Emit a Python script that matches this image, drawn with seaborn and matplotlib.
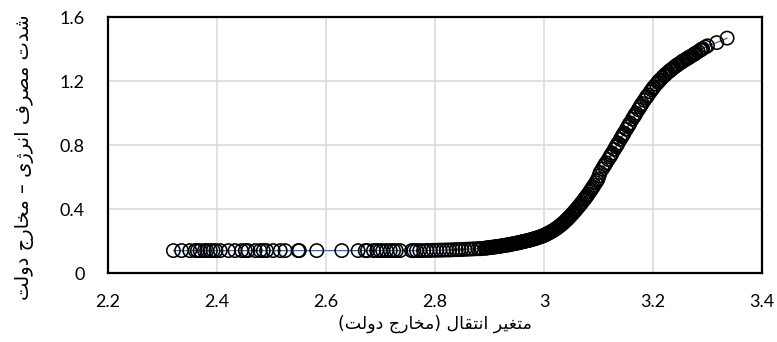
import matplotlib
matplotlib.use("Agg")
import matplotlib.pyplot as plt
import numpy as np
import pandas as pd
import seaborn as sns
from matplotlib.ticker import FuncFormatter

# Observations: (transition variable, energy intensity), low regime
low_regime = [
    (2.320, 0.140), (2.335, 0.140), (2.350, 0.140), (2.360, 0.140), (2.364, 0.140),
    (2.369, 0.140), (2.377, 0.140), (2.381, 0.140), (2.388, 0.140), (2.393, 0.140),
    (2.398, 0.140), (2.406, 0.140), (2.421, 0.140), (2.433, 0.140), (2.445, 0.140),
    (2.452, 0.140), (2.457, 0.140), (2.470, 0.140), (2.479, 0.140), (2.485, 0.140),
    (2.491, 0.140), (2.503, 0.140), (2.516, 0.140), (2.525, 0.140), (2.549, 0.140),
    (2.551, 0.140), (2.583, 0.140), (2.629, 0.140), (2.659, 0.140), (2.672, 0.140),
    (2.676, 0.140), (2.687, 0.140), (2.693, 0.140), (2.699, 0.140), (2.704, 0.140),
    (2.711, 0.140), (2.718, 0.140), (2.724, 0.140), (2.729, 0.140), (2.736, 0.140),
    (2.757, 0.140), (2.761, 0.140), (2.766, 0.140), (2.772, 0.140), (2.779, 0.140),
    (2.785, 0.141), (2.791, 0.141), (2.797, 0.142), (2.803, 0.142), (2.809, 0.143),
    (2.815, 0.143), (2.821, 0.144), (2.827, 0.144), (2.833, 0.145), (2.839, 0.146),
    (2.844, 0.146), (2.849, 0.147), (2.855, 0.148), (2.861, 0.149), (2.867, 0.150),
    (2.873, 0.151), (2.879, 0.152), (2.883, 0.152), (2.886, 0.153),
]

# Onset of the transition
onset = [
    (2.892, 0.155), (2.896, 0.157), (2.899, 0.158), (2.903, 0.160), (2.907, 0.162),
    (2.910, 0.163), (2.914, 0.165), (2.918, 0.167), (2.921, 0.169), (2.925, 0.171),
    (2.929, 0.173), (2.932, 0.175), (2.936, 0.177), (2.940, 0.180), (2.943, 0.182),
    (2.947, 0.185), (2.951, 0.188), (2.955, 0.190), (2.958, 0.193), (2.962, 0.196),
    (2.966, 0.199), (2.969, 0.202), (2.973, 0.205), (2.977, 0.209), (2.980, 0.212),
    (2.984, 0.216), (2.988, 0.220), (2.991, 0.224), (2.995, 0.228), (2.999, 0.233),
    (3.003, 0.240), (3.007, 0.247), (3.011, 0.254), (3.014, 0.260), (3.018, 0.268),
    (3.022, 0.277), (3.026, 0.287), (3.029, 0.295), (3.033, 0.306), (3.037, 0.318),
    (3.040, 0.328), (3.044, 0.341), (3.048, 0.355), (3.051, 0.366), (3.055, 0.381),
    (3.059, 0.397), (3.062, 0.409), (3.066, 0.426), (3.070, 0.443), (3.073, 0.456),
    (3.077, 0.474), (3.081, 0.493), (3.084, 0.508), (3.088, 0.528), (3.092, 0.549),
    (3.095, 0.565), (3.099, 0.587),
]

# Steep part of the transition
steep = [
    (3.103, 0.628), (3.107, 0.650), (3.110, 0.667), (3.114, 0.689), (3.118, 0.709),
    (3.121, 0.726), (3.125, 0.749), (3.129, 0.772), (3.132, 0.789), (3.136, 0.812),
    (3.140, 0.835), (3.143, 0.852), (3.147, 0.875), (3.151, 0.898), (3.154, 0.915),
    (3.158, 0.938), (3.162, 0.961), (3.165, 0.977), (3.169, 0.999), (3.173, 1.021),
    (3.176, 1.037), (3.180, 1.059), (3.184, 1.079), (3.187, 1.094), (3.191, 1.113),
    (3.195, 1.132), (3.198, 1.146),
]

# Upper regime
high_regime = [
    (3.202, 1.164), (3.206, 1.180), (3.209, 1.192), (3.213, 1.207), (3.217, 1.221),
    (3.220, 1.231), (3.224, 1.244), (3.228, 1.256), (3.231, 1.264), (3.235, 1.275),
    (3.239, 1.286), (3.242, 1.294), (3.246, 1.303), (3.250, 1.313), (3.253, 1.320),
    (3.257, 1.329), (3.261, 1.337), (3.264, 1.343), (3.268, 1.352), (3.272, 1.360),
    (3.275, 1.366), (3.279, 1.375), (3.283, 1.384), (3.287, 1.393), (3.291, 1.402),
    (3.296, 1.412), (3.317, 1.440), (3.336, 1.468),
]

# Further observations between the ones above
interleaved = [
    (2.894, 0.156), (2.901, 0.159), (2.905, 0.161), (2.912, 0.164), (2.916, 0.166),
    (2.923, 0.170), (2.927, 0.172), (2.934, 0.176), (2.938, 0.179), (2.945, 0.184),
    (2.949, 0.186), (2.953, 0.189), (2.960, 0.195), (2.964, 0.198), (2.971, 0.203),
    (2.975, 0.207), (2.982, 0.214), (2.986, 0.218), (2.993, 0.226), (2.997, 0.231),
    (3.001, 0.237), (3.005, 0.243), (3.009, 0.251), (3.016, 0.264), (3.020, 0.272),
    (3.024, 0.282), (3.031, 0.300), (3.035, 0.312), (3.042, 0.334), (3.046, 0.348),
    (3.053, 0.373), (3.057, 0.389), (3.064, 0.417), (3.068, 0.434), (3.075, 0.465),
    (3.079, 0.483), (3.086, 0.518), (3.090, 0.538), (3.097, 0.576), (3.101, 0.607),
    (3.112, 0.678), (3.123, 0.737), (3.134, 0.800), (3.145, 0.864), (3.156, 0.927),
    (3.167, 0.988), (3.178, 1.048), (3.189, 1.104), (3.200, 1.155), (3.211, 1.200),
    (3.222, 1.238), (3.233, 1.270), (3.244, 1.299), (3.255, 1.325), (3.266, 1.348),
    (3.277, 1.371), (3.289, 1.398), (3.300, 1.420),
]

x_ticks = [2.2, 2.4, 2.6, 2.8, 3.0, 3.2, 3.4]
y_ticks = [0, 0.4, 0.8, 1.2, 1.6]

x_title = "متغیر انتقال (مخارج دولت)"
y_title = "شدت مصرف انرژی – مخارج دولت"

# --- Persian shaping (contextual forms + right-to-left order) ---
FORMS = {
    "\u0627": ("\uFE8D", "\uFE8E", None, None),
    "\u062A": ("\uFE95", "\uFE96", "\uFE97", "\uFE98"),
    "\u062C": ("\uFE9D", "\uFE9E", "\uFE9F", "\uFEA0"),
    "\u062E": ("\uFEA5", "\uFEA6", "\uFEA7", "\uFEA8"),
    "\u062F": ("\uFEA9", "\uFEAA", None, None),
    "\u0631": ("\uFEAD", "\uFEAE", None, None),
    "\u0698": ("\uFB8A", "\uFB8B", None, None),
    "\u0634": ("\uFEB5", "\uFEB6", "\uFEB7", "\uFEB8"),
    "\u0635": ("\uFEB9", "\uFEBA", "\uFEBB", "\uFEBC"),
    "\u063A": ("\uFECD", "\uFECE", "\uFECF", "\uFED0"),
    "\u0641": ("\uFED1", "\uFED2", "\uFED3", "\uFED4"),
    "\u0642": ("\uFED5", "\uFED6", "\uFED7", "\uFED8"),
    "\u0644": ("\uFEDD", "\uFEDE", "\uFEDF", "\uFEE0"),
    "\u0645": ("\uFEE1", "\uFEE2", "\uFEE3", "\uFEE4"),
    "\u0646": ("\uFEE5", "\uFEE6", "\uFEE7", "\uFEE8"),
    "\u0648": ("\uFEED", "\uFEEE", None, None),
    "\u06CC": ("\uFBFC", "\uFBFD", "\uFBFE", "\uFBFF"),
}


def shape_rtl(text):
    text = text.replace("\u064A", "\u06CC")
    out = []
    for i, ch in enumerate(text):
        forms = FORMS.get(ch)
        if forms is None:
            out.append(ch)
            continue
        prev = text[i - 1] if i > 0 else ""
        nxt = text[i + 1] if i < len(text) - 1 else ""
        joins_prev = prev in FORMS and FORMS[prev][2] is not None
        joins_next = forms[2] is not None and nxt in FORMS
        if joins_prev and joins_next:
            out.append(forms[3])
        elif joins_prev:
            out.append(forms[1])
        elif joins_next:
            out.append(forms[2])
        else:
            out.append(forms[0])
    mirror = {"(": ")", ")": "("}
    return "".join(mirror.get(c, c) for c in reversed(out))


points = low_regime + onset + steep + high_regime + interleaved
df = pd.DataFrame(points, columns=["transition", "intensity"]).sort_values("transition")

sns.set_theme(style="white")
plt.rcParams["font.family"] = ["Lato", "DejaVu Sans"]

fig = plt.figure(figsize=(7.77, 3.42), dpi=100)
ax = fig.add_axes([108 / 777, 69 / 342, 654 / 777, 256 / 342])

sns.lineplot(data=df, x="transition", y="intensity", ax=ax, color="#3B66AD",
             linewidth=0.9, estimator=None, sort=True, zorder=3)
sns.scatterplot(data=df, x="transition", y="intensity", ax=ax, marker="o", s=92,
                facecolor="none", edgecolor="black", linewidth=1.15, zorder=4)

ax.set_xlim(2.2, 3.4)
ax.set_ylim(0, 1.6)
ax.set_xticks(x_ticks)
ax.set_yticks(y_ticks)
fmt = FuncFormatter(lambda v, _: f"{v:g}")
ax.xaxis.set_major_formatter(fmt)
ax.yaxis.set_major_formatter(fmt)

ax.grid(True, color="#D9D9D9", linewidth=1.1)
ax.set_axisbelow(True)
for sp in ax.spines.values():
    sp.set_visible(True)
    sp.set_color("black")
    sp.set_linewidth(1.6)

ax.tick_params(axis="both", length=0, labelsize=13, colors="black")
ax.tick_params(axis="x", pad=15)
ax.tick_params(axis="y", pad=17)

ax.set_xlabel(shape_rtl(x_title), fontsize=12.5, family=["DejaVu Sans"], color="black")
ax.set_ylabel(shape_rtl(y_title), fontsize=14, family=["DejaVu Sans"], color="black")
ax.xaxis.set_label_coords(0.5, -0.2)
ax.xaxis.label.set_va("center")
ax.yaxis.set_label_coords(-0.127, 0.453)
ax.yaxis.label.set_va("center")

fig.savefig("out.png", dpi=100)
